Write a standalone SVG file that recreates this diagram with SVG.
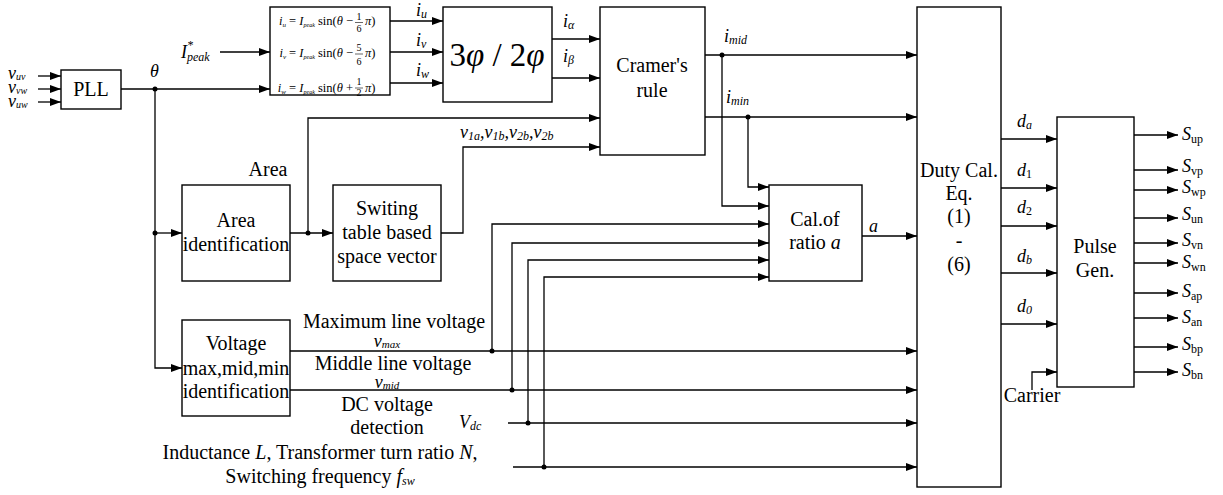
<svg xmlns="http://www.w3.org/2000/svg" width="1223" height="495" viewBox="0 0 1223 495" font-family="'Liberation Serif', 'Times New Roman', serif">
<style>
text{font-family:"Liberation Serif","Times New Roman",serif;fill:#000}
.b{font-size:20px;text-anchor:middle}
.v{font-size:18px;font-style:italic}
.s{font-size:12px}
.f{font-size:12.5px}
.fr{font-size:10px;text-anchor:middle}
rect.n{fill:#fff;stroke:#000;stroke-width:1.4}
#connectors path{fill:none;stroke:#000;stroke-width:1.3}
#connectors path.a{marker-end:url(#ah)}
#connectors circle{fill:#000}
</style>
<defs>
<marker id="ah" markerUnits="userSpaceOnUse" markerWidth="11" markerHeight="8" refX="11" refY="4" orient="auto">
<path d="M0,0 L11,4 L0,8 z" fill="#000"/>
</marker>
</defs>
<rect width="1223" height="495" fill="#fff"/>

<g id="connectors">
<path class="a" d="M38,76 H61"/>
<path class="a" d="M38,89 H61"/>
<path class="a" d="M38,102 H61"/>
<path class="a" d="M121,89 H270"/>
<path class="a" d="M220,52 H270"/>
<path class="a" d="M390,21 H443"/>
<path class="a" d="M390,52 H443"/>
<path class="a" d="M390,83 H443"/>
<path class="a" d="M552,39 H600"/>
<path class="a" d="M552,78 H600"/>
<path class="a" d="M155,89 V368 H182"/>
<path class="a" d="M155,233 H182"/>
<path class="a" d="M290,233 H333"/>
<path class="a" d="M308,233 V118 H600"/>
<path class="a" d="M441,233 H463 V147 H600"/>
<path class="a" d="M705,55 H917"/>
<path class="a" d="M705,117 H917"/>
<path class="a" d="M722,55 V206 H769"/>
<path class="a" d="M748,117 V187 H769"/>
<path class="a" d="M290,351 H917"/>
<path class="a" d="M492,351 V224 H769"/>
<path class="a" d="M290,390 H917"/>
<path class="a" d="M512,390 V243 H769"/>
<path class="a" d="M508,423 H917"/>
<path class="a" d="M528,423 V260 H769"/>
<path class="a" d="M513,467 H917"/>
<path class="a" d="M544,467 V277 H769"/>
<path class="a" d="M862,236 H917"/>
<path class="a" d="M1001,139 H1057"/>
<path class="a" d="M1001,188 H1057"/>
<path class="a" d="M1001,226 H1057"/>
<path class="a" d="M1001,273 H1057"/>
<path class="a" d="M1001,324 H1057"/>
<path class="a" d="M1032,390 V372 H1057"/>
<path class="a" d="M1134,135 H1178"/>
<path class="a" d="M1134,170 H1178"/>
<path class="a" d="M1134,190 H1178"/>
<path class="a" d="M1134,218 H1178"/>
<path class="a" d="M1134,243 H1178"/>
<path class="a" d="M1134,263 H1178"/>
<path class="a" d="M1134,293 H1178"/>
<path class="a" d="M1134,318 H1178"/>
<path class="a" d="M1134,347 H1178"/>
<path class="a" d="M1134,372 H1178"/>
<circle cx="155" cy="89" r="2.5"/>
<circle cx="155" cy="233" r="2.5"/>
<circle cx="308" cy="233" r="2.5"/>
<circle cx="722" cy="55" r="2.5"/>
<circle cx="748" cy="117" r="2.5"/>
<circle cx="492" cy="351" r="2.5"/>
<circle cx="512" cy="390" r="2.5"/>
<circle cx="528" cy="423" r="2.5"/>
<circle cx="544" cy="467" r="2.5"/>
</g>

<g id="inputs">
<text x="8" y="79" class="v" font-size="15">v<tspan font-size="10" dy="1">uv</tspan></text>
<text x="8" y="93" class="v" font-size="15">v<tspan font-size="10" dy="1">vw</tspan></text>
<text x="8" y="107" class="v" font-size="15">v<tspan font-size="10" dy="1">uw</tspan></text>
<text x="150" y="77" class="v">θ</text>
<text x="181" y="58" class="v">I<tspan class="s" dy="-9">*</tspan><tspan class="s" dx="-6" dy="12">peak</tspan></text>
</g>

<g id="pll">
<rect class="n" x="61" y="70" width="60" height="39"/>
<text class="b" x="91" y="96">PLL</text>
</g>

<g id="formula">
<rect class="n" x="270" y="7" width="120" height="88"/>
<text class="f" x="353" y="25" text-anchor="end"><tspan font-style="italic">i</tspan><tspan font-size="7" font-style="italic" dy="2">u</tspan><tspan dy="-2"> = </tspan><tspan font-style="italic">I</tspan><tspan font-size="6" font-style="italic" dy="2">peak</tspan><tspan dy="-2"> sin(</tspan><tspan font-style="italic">θ</tspan> −</text>
<text class="fr" x="359" y="20">1</text><path d="M355,22.5 H363" stroke="#000" stroke-width="0.6"/><text class="fr" x="359" y="32">6</text>
<text class="f" x="365" y="25"><tspan font-style="italic">π</tspan>)</text>
<text class="f" x="353" y="57" text-anchor="end"><tspan font-style="italic">i</tspan><tspan font-size="7" font-style="italic" dy="2">v</tspan><tspan dy="-2"> = </tspan><tspan font-style="italic">I</tspan><tspan font-size="6" font-style="italic" dy="2">peak</tspan><tspan dy="-2"> sin(</tspan><tspan font-style="italic">θ</tspan> −</text>
<text class="fr" x="359" y="51">5</text><path d="M355,54 H363" stroke="#000" stroke-width="0.6"/><text class="fr" x="359" y="65">6</text>
<text class="f" x="365" y="57"><tspan font-style="italic">π</tspan>)</text>
<text class="f" x="353" y="92" text-anchor="end"><tspan font-style="italic">i</tspan><tspan font-size="7" font-style="italic" dy="2">w</tspan><tspan dy="-2"> = </tspan><tspan font-style="italic">I</tspan><tspan font-size="6" font-style="italic" dy="2">peak</tspan><tspan dy="-2"> sin(</tspan><tspan font-style="italic">θ</tspan> +</text>
<text class="fr" x="359" y="85">1</text><path d="M355,88 H363" stroke="#000" stroke-width="0.6"/><text class="fr" x="359" y="96">2</text>
<text class="f" x="365" y="92"><tspan font-style="italic">π</tspan>)</text>
<text x="416" y="16" class="v">i<tspan class="s" dy="2">u</tspan></text>
<text x="416" y="46" class="v">i<tspan class="s" dy="2">v</tspan></text>
<text x="416" y="76" class="v">i<tspan class="s" dy="2">w</tspan></text>
</g>

<g id="conv">
<rect class="n" x="443" y="7" width="109" height="95"/>
<text x="497" y="66" font-size="33" text-anchor="middle">3<tspan font-style="italic">φ</tspan> / 2<tspan font-style="italic">φ</tspan></text>
<text x="563" y="27" class="v">i<tspan class="s" font-style="italic" dy="2">α</tspan></text>
<text x="563" y="62" class="v">i<tspan class="s" font-style="italic" dy="2">β</tspan></text>
</g>

<g id="cramer">
<rect class="n" x="600" y="7" width="105" height="148"/>
<text class="b" x="652" y="72">Cramer's</text>
<text class="b" x="652" y="97">rule</text>
<text x="724" y="42" class="v">i<tspan class="s" font-style="italic" dy="2">mid</tspan></text>
<text x="726" y="103" class="v">i<tspan class="s" font-style="italic" dy="2">min</tspan></text>
<text x="460" y="138" class="v">v<tspan class="s" dy="2">1<tspan font-style="italic">a</tspan></tspan><tspan dy="-2">,v</tspan><tspan class="s" dy="2">1<tspan font-style="italic">b</tspan></tspan><tspan dy="-2">,v</tspan><tspan class="s" dy="2">2<tspan font-style="italic">b</tspan></tspan><tspan dy="-2">,v</tspan><tspan class="s" dy="2">2<tspan font-style="italic">b</tspan></tspan></text>
</g>

<g id="area">
<text class="b" x="268" y="176">Area</text>
<rect class="n" x="182" y="185" width="108" height="96"/>
<text class="b" x="236" y="227">Area</text>
<text class="b" x="236" y="251">identification</text>
</g>

<g id="switing">
<rect class="n" x="333" y="185" width="108" height="96"/>
<text class="b" x="387" y="215">Switing</text>
<text class="b" x="387" y="239">table based</text>
<text class="b" x="387" y="263">space vector</text>
</g>

<g id="voltage">
<rect class="n" x="182" y="320" width="108" height="96"/>
<text class="b" x="236" y="350">Voltage</text>
<text class="b" x="236" y="375">max,mid,min</text>
<text class="b" x="236" y="398">identification</text>
</g>

<g id="labels">
<text class="b" x="394" y="328">Maximum line voltage</text>
<text class="v" x="387" y="347" text-anchor="middle" font-size="16">v<tspan font-size="11" dy="1">max</tspan></text>
<text class="b" x="393" y="370" font-size="19.5">Middle line voltage</text>
<text class="v" x="387" y="388" text-anchor="middle" font-size="15">v<tspan font-size="11" dy="1">mid</tspan></text>
<text class="b" x="387" y="411">DC voltage</text>
<text class="b" x="387" y="434">detection</text>
<text class="v" x="459" y="428">V<tspan class="s" dy="2">dc</tspan></text>
<text class="b" x="320" y="459">Inductance  <tspan font-style="italic">L</tspan>, Transformer turn ratio <tspan font-style="italic">N</tspan>,</text>
<text class="b" x="320" y="483">Switching frequency <tspan font-style="italic">f</tspan><tspan class="s" font-style="italic" dy="2">sw</tspan></text>
</g>

<g id="calratio">
<rect class="n" x="769" y="185" width="93" height="96"/>
<text class="b" x="815" y="226">Cal.of</text>
<text class="b" x="815" y="249">ratio <tspan font-style="italic">a</tspan></text>
<text class="v" x="869" y="232">a</text>
</g>

<g id="duty">
<rect class="n" x="917" y="7" width="84" height="480"/>
<text class="b" x="959" y="177">Duty Cal.</text>
<text class="b" x="959" y="200">Eq.</text>
<text class="b" x="959" y="223">(1)</text>
<text class="b" x="959" y="247">-</text>
<text class="b" x="959" y="271">(6)</text>
<text class="v" x="1017" y="127">d<tspan class="s" dy="2">a</tspan></text>
<text class="v" x="1017" y="176">d<tspan class="s" font-style="normal" dy="2">1</tspan></text>
<text class="v" x="1017" y="213">d<tspan class="s" font-style="normal" dy="2">2</tspan></text>
<text class="v" x="1017" y="262">d<tspan class="s" dy="2">b</tspan></text>
<text class="v" x="1017" y="312">d<tspan class="s" dy="2">0</tspan></text>
</g>

<g id="pulse">
<rect class="n" x="1057" y="117" width="77" height="270"/>
<text class="b" x="1095" y="253">Pulse</text>
<text class="b" x="1095" y="277">Gen.</text>
<text class="b" x="1032" y="402" font-size="18">Carrier</text>
<text class="v" x="1182" y="140" font-size="17">S<tspan class="s" font-style="normal" dy="3">up</tspan></text>
<text class="v" x="1182" y="172" font-size="17">S<tspan class="s" font-style="normal" dy="3">vp</tspan></text>
<text class="v" x="1182" y="193" font-size="17">S<tspan class="s" font-style="normal" dy="3">wp</tspan></text>
<text class="v" x="1182" y="220" font-size="17">S<tspan class="s" font-style="normal" dy="3">un</tspan></text>
<text class="v" x="1182" y="246" font-size="17">S<tspan class="s" font-style="normal" dy="3">vn</tspan></text>
<text class="v" x="1182" y="268" font-size="17">S<tspan class="s" font-style="normal" dy="3">wn</tspan></text>
<text class="v" x="1182" y="297" font-size="17">S<tspan class="s" font-style="normal" dy="3">ap</tspan></text>
<text class="v" x="1182" y="323" font-size="17">S<tspan class="s" font-style="normal" dy="3">an</tspan></text>
<text class="v" x="1182" y="350" font-size="17">S<tspan class="s" font-style="normal" dy="3">bp</tspan></text>
<text class="v" x="1182" y="376" font-size="17">S<tspan class="s" font-style="normal" dy="3">bn</tspan></text>
</g>
</svg>
